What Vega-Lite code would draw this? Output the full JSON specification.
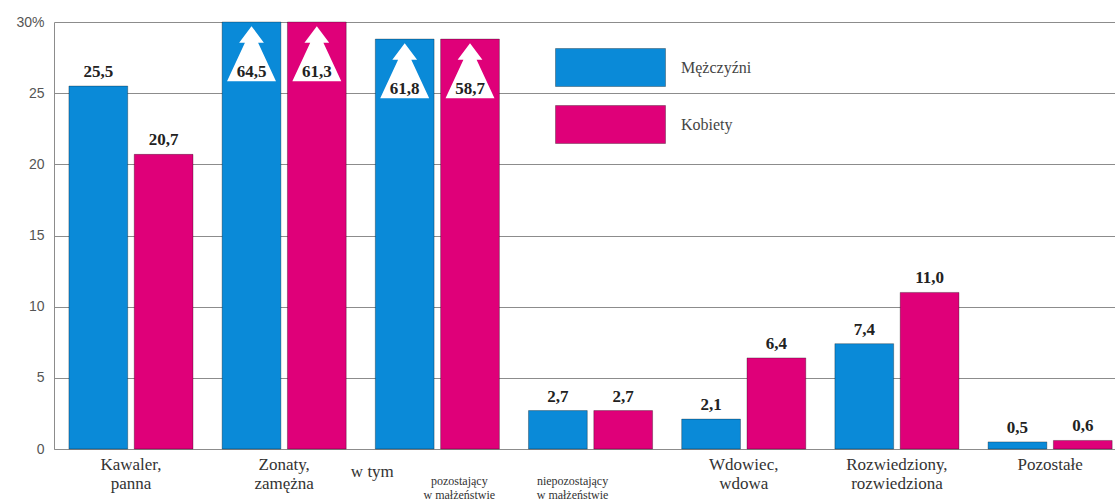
{
  "$schema": "https://vega.github.io/schema/vega-lite/v6.json",
  "width": 1061,
  "height": 427,
  "autosize": {"type": "none"},
  "padding": {"left": 54, "top": 22, "right": 0, "bottom": 53},
  "background": "white",
  "config": {
    "locale": {"number": {"decimal": ",", "thousands": " ", "grouping": [3], "currency": ["", " zł"]}},
    "view": {"stroke": null},
    "font": "Liberation Serif"
  },
  "data": {
    "values": [
      {"cat": "Kawaler,|panna", "sex": "Mężczyźni", "value": 25.5, "shown": 25.5, "clipped": false},
      {"cat": "Kawaler,|panna", "sex": "Kobiety", "value": 20.7, "shown": 20.7, "clipped": false},
      {"cat": "Zonaty,|zamężna", "sex": "Mężczyźni", "value": 64.5, "shown": 30, "clipped": true},
      {"cat": "Zonaty,|zamężna", "sex": "Kobiety", "value": 61.3, "shown": 30, "clipped": true},
      {"cat": "pozostający|w małżeństwie", "sex": "Mężczyźni", "value": 61.8, "shown": 28.8, "clipped": true},
      {"cat": "pozostający|w małżeństwie", "sex": "Kobiety", "value": 58.7, "shown": 28.8, "clipped": true},
      {"cat": "niepozostający|w małżeństwie", "sex": "Mężczyźni", "value": 2.7, "shown": 2.7, "clipped": false},
      {"cat": "niepozostający|w małżeństwie", "sex": "Kobiety", "value": 2.7, "shown": 2.7, "clipped": false},
      {"cat": "Wdowiec,|wdowa", "sex": "Mężczyźni", "value": 2.1, "shown": 2.1, "clipped": false},
      {"cat": "Wdowiec,|wdowa", "sex": "Kobiety", "value": 6.4, "shown": 6.4, "clipped": false},
      {"cat": "Rozwiedziony,|rozwiedziona", "sex": "Mężczyźni", "value": 7.4, "shown": 7.4, "clipped": false},
      {"cat": "Rozwiedziony,|rozwiedziona", "sex": "Kobiety", "value": 11.0, "shown": 11.0, "clipped": false},
      {"cat": "Pozostałe", "sex": "Mężczyźni", "value": 0.5, "shown": 0.5, "clipped": false},
      {"cat": "Pozostałe", "sex": "Kobiety", "value": 0.6, "shown": 0.6, "clipped": false}
    ]
  },
  "encoding": {
    "x": {
      "field": "cat",
      "type": "nominal",
      "sort": ["Kawaler,|panna", "Zonaty,|zamężna", "pozostający|w małżeństwie", "niepozostający|w małżeństwie", "Wdowiec,|wdowa", "Rozwiedziony,|rozwiedziona", "Pozostałe"],
      "scale": {"paddingInner": 0.19, "paddingOuter": 0.058, "align": 0.84},
      "axis": {
        "title": null,
        "ticks": false,
        "domainColor": "#8c8c8c",
        "labelAngle": 0,
        "labelExpr": "split(datum.label, '|')",
        "labelColor": "#333333",
        "labelFont": "Liberation Serif",
        "labelBaseline": "top",
        "labelFontSize": {"condition": {"test": "indexof(datum.value, 'małżeństwie') >= 0", "value": 12}, "value": 17},
        "labelPadding": {"condition": {"test": "indexof(datum.value, 'małżeństwie') >= 0", "value": 26}, "value": 7},
        "labelOffset": {"condition": [{"test": "datum.value == 'pozostający|w małżeństwie'", "value": 22}, {"test": "datum.value == 'niepozostający|w małżeństwie'", "value": -18}], "value": 0}
      }
    },
    "y": {
      "field": "shown",
      "type": "quantitative",
      "scale": {"domain": [0, 30], "nice": false},
      "axis": {
        "title": null,
        "values": [0, 5, 10, 15, 20, 25, 30],
        "labelExpr": "datum.value == 30 ? '30%' : datum.label",
        "ticks": false,
        "labelPadding": 10,
        "grid": true,
        "gridColor": "#8c8c8c",
        "domainColor": "#8c8c8c",
        "labelFont": "Liberation Sans",
        "labelFontSize": 14,
        "labelColor": "#555555"
      }
    }
  },
  "layer": [
    {
      "mark": {"type": "bar", "stroke": "black", "strokeOpacity": 0.3, "strokeWidth": 1},
      "encoding": {
        "xOffset": {"field": "sex", "sort": ["Mężczyźni", "Kobiety"], "scale": {"paddingInner": 0.1, "paddingOuter": 0}},
        "color": {
          "field": "sex",
          "type": "nominal",
          "scale": {"domain": ["Mężczyźni", "Kobiety"], "range": ["#0a8ad8", "#df0079"]},
          "legend": {
            "title": null,
            "orient": "none",
            "legendX": 536,
            "legendY": 25,
            "padding": 0,
            "symbolType": "M-2.75,-0.95H2.75V0.95H-2.75Z",
            "symbolSize": 1600,
            "symbolOpacity": 1,
            "symbolStrokeColor": "rgba(0,0,0,0.3)",
            "symbolStrokeWidth": 1,
            "labelOffset": 50,
            "rowPadding": 14,
            "labelFont": "Liberation Serif",
            "labelFontSize": 16,
            "labelColor": "#444444"
          }
        }
      }
    },
    {
      "transform": [{"filter": "!datum.clipped"}],
      "mark": {"type": "text", "baseline": "middle", "dy": -14, "font": "Liberation Serif", "fontWeight": "bold", "fontSize": 17, "color": "#222222"},
      "encoding": {
        "xOffset": {"field": "sex", "sort": ["Mężczyźni", "Kobiety"], "scale": {"paddingInner": 0.1, "paddingOuter": 0}},
        "text": {"field": "value", "type": "quantitative", "format": ".1f"}
      }
    },
    {
      "transform": [{"filter": "datum.clipped"}],
      "mark": {"type": "point", "filled": true, "fill": "white", "opacity": 1, "strokeWidth": 0, "size": 3025, "shape": "M0,0.15L0.45,0.75L0.24,0.75L0.89,2.15L-0.89,2.15L-0.24,0.75L-0.45,0.75Z"},
      "encoding": {
        "xOffset": {"field": "sex", "sort": ["Mężczyźni", "Kobiety"], "scale": {"paddingInner": 0.1, "paddingOuter": 0}}
      }
    },
    {
      "transform": [{"filter": "datum.clipped"}],
      "mark": {"type": "text", "baseline": "middle", "dy": 50, "font": "Liberation Serif", "fontWeight": "bold", "fontSize": 17, "color": "#222222"},
      "encoding": {
        "xOffset": {"field": "sex", "sort": ["Mężczyźni", "Kobiety"], "scale": {"paddingInner": 0.1, "paddingOuter": 0}},
        "text": {"field": "value", "type": "quantitative", "format": ".1f"}
      }
    },
    {
      "transform": [{"filter": "datum.cat == 'pozostający|w małżeństwie' && datum.sex == 'Mężczyźni'"}],
      "mark": {"type": "text", "baseline": "middle", "dx": -65, "dy": 23, "font": "Liberation Serif", "fontSize": 17, "color": "#333333", "text": "w tym"},
      "encoding": {
        "y": {"datum": 0}
      }
    }
  ]
}
